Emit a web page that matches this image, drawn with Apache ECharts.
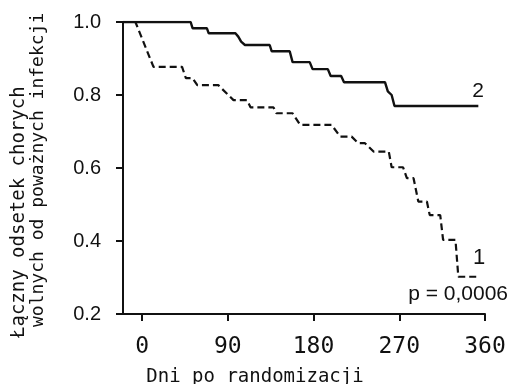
<!DOCTYPE html>
<html>
<head>
<meta charset="utf-8">
<script src="https://cdn.jsdelivr.net/npm/echarts@6/dist/echarts.min.js"></script>
<style>
html,body{margin:0;padding:0;background:#fff;}
#c{width:517px;height:384px;}
</style>
</head>
<body>
<div id="c"></div>
<script>
// Kaplan-Meier style curves: vertices [day, value]
const group2Days   = [-20, 51, 53, 68, 70, 98, 101, 104, 108, 134, 136, 155, 158, 176, 179, 195, 198, 209, 212, 255, 258, 262, 265, 353];
const group2Values = [1.0, 1.0, 0.983, 0.983, 0.969, 0.969, 0.96, 0.946, 0.937, 0.937, 0.92, 0.92, 0.89, 0.89, 0.871, 0.871, 0.852, 0.852, 0.835, 0.835, 0.81, 0.80, 0.77, 0.77];

const group1Days   = [-20, -7, 12, 42, 46, 53, 58, 80, 96, 110, 114, 138, 141, 158, 166, 199, 208, 220, 227, 234, 243, 259, 262, 274, 278, 285, 290, 299, 302, 313, 316, 329, 332, 355];
const group1Values = [1.0, 1.0, 0.877, 0.877, 0.846, 0.846, 0.827, 0.827, 0.786, 0.786, 0.766, 0.766, 0.75, 0.75, 0.718, 0.718, 0.686, 0.686, 0.668, 0.668, 0.645, 0.645, 0.602, 0.602, 0.572, 0.572, 0.508, 0.508, 0.471, 0.471, 0.403, 0.403, 0.302, 0.302];

const xTicks = [0, 90, 180, 270, 360];
const yTicks = [0.2, 0.4, 0.6, 0.8, 1.0];

const xTitle = 'Dni po randomizacji';
const yTitle1 = 'Łączny odsetek chorych';
const yTitle2 = 'wolnych od poważnych infekcji';
const label1 = '1';
const label2 = '2';
const pText = 'p = 0,0006';

const zip = (a, b) => a.map((v, i) => [v, b[i]]);

const chart = echarts.init(document.getElementById('c'), null, {renderer: 'canvas'});
const ink = '#111';
chart.setOption({
  animation: false,
  backgroundColor: '#fff',
  grid: {left: 123, right: 32, top: 22, bottom: 70, containLabel: false},
  xAxis: {
    type: 'value', min: -20, max: 360,
    axisLine: {show: true, onZero: false, lineStyle: {color: ink, width: 2}},
    axisTick: {show: true, customValues: xTicks, length: 7, lineStyle: {color: ink, width: 2}},
    axisLabel: {customValues: xTicks, margin: 22, color: ink, fontFamily: 'DejaVu Sans Mono', fontSize: 23},
    splitLine: {show: false}
  },
  yAxis: {
    type: 'value', min: 0.2, max: 1.0, interval: 0.2,
    axisLine: {show: true, onZero: false, lineStyle: {color: ink, width: 2}},
    axisTick: {show: true, customValues: yTicks, length: 7, lineStyle: {color: ink, width: 2}},
    axisLabel: {customValues: yTicks, margin: 22, color: ink, fontFamily: 'Liberation Sans', fontSize: 20,
      formatter: v => Number(v).toFixed(1)},
    splitLine: {show: false}
  },
  series: [
    {type: 'line', name: '2', data: zip(group2Days, group2Values), showSymbol: false, symbol: 'none',
     lineStyle: {color: ink, width: 2.4}},
    {type: 'line', name: '1', data: zip(group1Days, group1Values), showSymbol: false, symbol: 'none',
     lineStyle: {color: ink, width: 2.2, type: [7, 4]}}
  ],
  graphic: [
    {type: 'text', x: 255, y: 377, style: {text: xTitle, fill: ink, font: '19px "DejaVu Sans Mono"', textAlign: 'center', textVerticalAlign: 'middle'}},
    {type: 'text', x: 19, y: 338, rotation: Math.PI / 2, style: {text: yTitle1, fill: ink, font: '19px "DejaVu Sans Mono"', textAlign: 'left', textVerticalAlign: 'middle'}},
    {type: 'text', x: 38, y: 327, rotation: Math.PI / 2, style: {text: yTitle2, fill: ink, font: '18px "DejaVu Sans Mono"', textAlign: 'left', textVerticalAlign: 'middle'}},
    {type: 'text', x: 478, y: 91, style: {text: label2, fill: ink, font: '21px "Liberation Sans"', textAlign: 'center', textVerticalAlign: 'middle'}},
    {type: 'text', x: 479, y: 258, style: {text: label1, fill: ink, font: '22px "Liberation Sans"', textAlign: 'center', textVerticalAlign: 'middle'}},
    {type: 'text', x: 508, y: 294, style: {text: pText, fill: ink, font: '21px "Liberation Sans"', textAlign: 'right', textVerticalAlign: 'middle'}}
  ]
});
</script>
</body>
</html>
